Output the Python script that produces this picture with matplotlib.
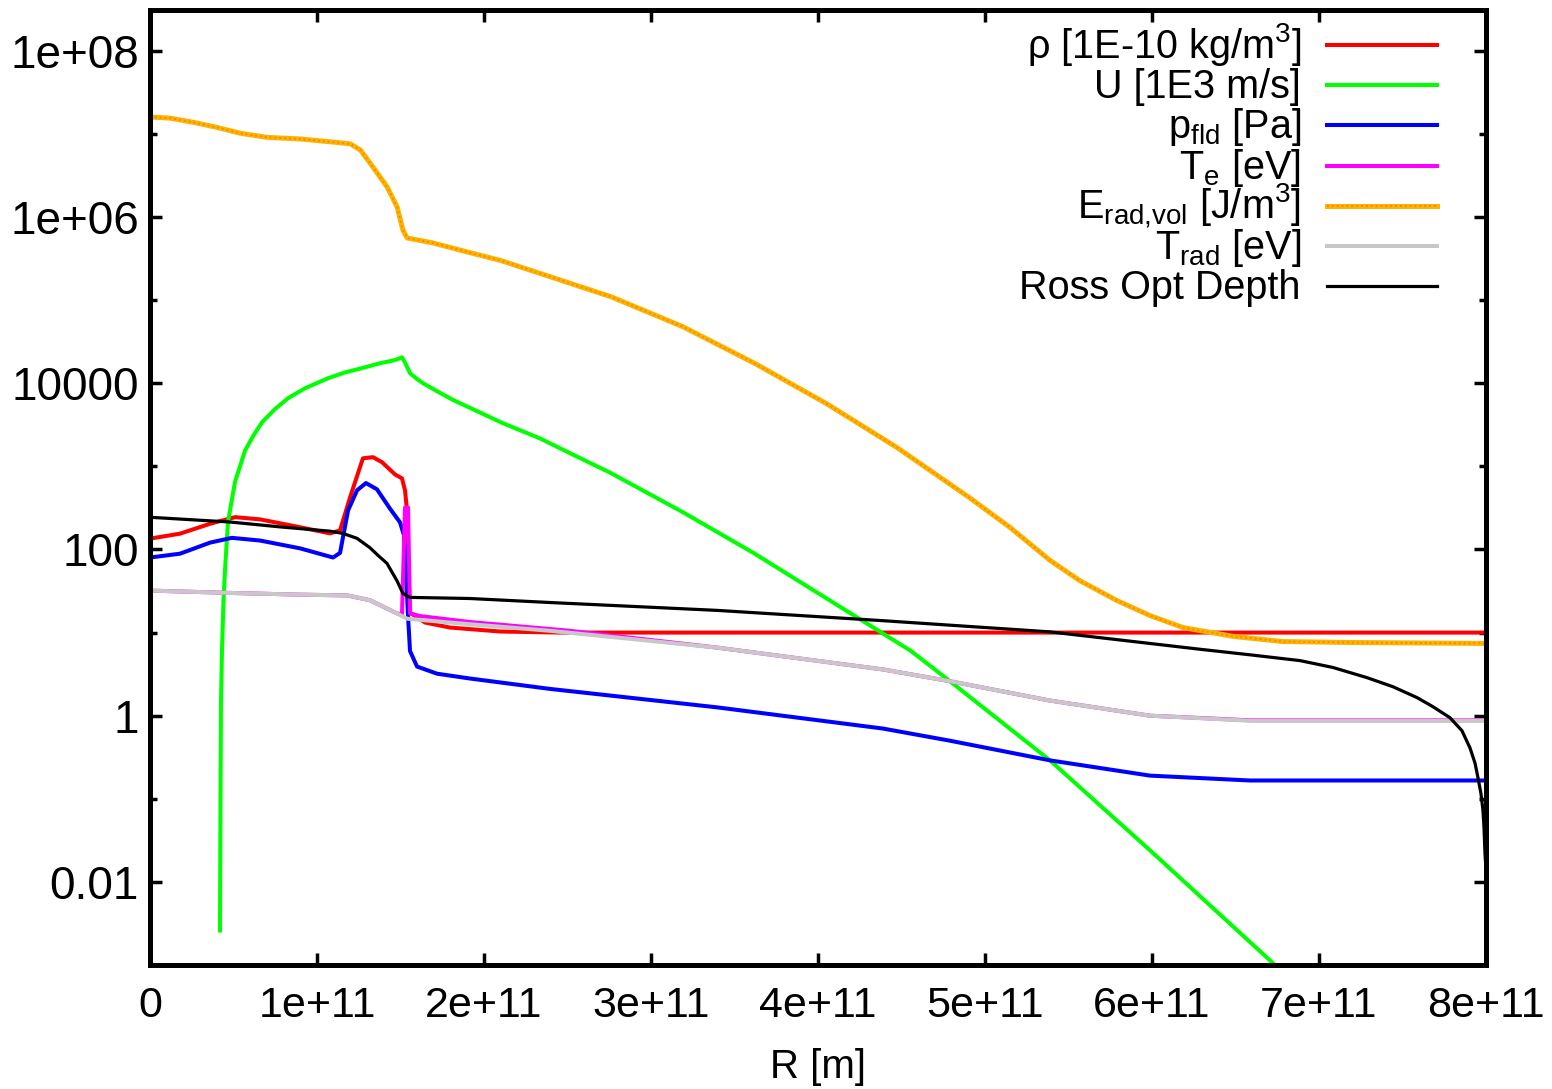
import matplotlib
matplotlib.use('Agg')
import matplotlib.pyplot as plt
import numpy as np
from matplotlib.lines import Line2D
from matplotlib.ticker import FixedLocator, NullFormatter

plt.rcParams['font.family'] = ['Liberation Sans', 'DejaVu Sans']
plt.rcParams['mathtext.fontset'] = 'custom'
plt.rcParams['mathtext.rm'] = 'Liberation Sans'
plt.rcParams['mathtext.it'] = 'Liberation Sans:italic'
plt.rcParams['mathtext.bf'] = 'Liberation Sans:bold'

# --- data (R in units of 1e11 m) ---
rho_r = np.array([0, 0.18, 0.36, 0.51, 0.66, 0.90, 1.078, 1.138, 1.198, 1.275, 1.335, 1.39,
                  1.467, 1.509, 1.527, 1.539, 1.545, 1.557, 1.647, 1.796, 2.096, 2.455,
                  4.0, 6.0, 8.0]) * 1e11
rho = [135, 155, 204, 245, 230, 185, 156, 170, 424, 1250, 1290, 1120,
       800, 716, 515, 295, 74, 17.4, 13.2, 11.5, 10.3, 10.0,
       10.0, 10.0, 10.0]

u_r = np.array([0.419, 0.422, 0.425, 0.431, 0.440, 0.449, 0.467, 0.509, 0.569, 0.617,
                0.671, 0.749, 0.826, 0.928, 1.066, 1.168, 1.269, 1.377, 1.467, 1.509,
                1.527, 1.557, 1.600, 1.635, 1.720, 1.814, 1.950, 2.114, 2.335, 2.515,
                2.760, 3.192, 3.617, 4.048, 4.557, 4.790, 5.389, 5.988, 6.725, 6.83]) * 1e11
u = [2.6e-3, 0.072, 1.5, 6.0, 24, 56, 215, 650, 1550, 2300,
     3400, 4900, 6600, 8700, 11500, 13500, 15200, 17400, 19000, 20500,
     17800, 13200, 11200, 10000, 8000, 6300, 4700, 3300, 2170, 1440,
     830, 280, 90, 26, 6.0, 2.6, 0.29, 0.024, 1.05e-3, 6.5e-4]

p_r = np.array([0, 0.18, 0.36, 0.49, 0.66, 0.90, 1.096, 1.138, 1.186, 1.240, 1.293, 1.359,
                1.437, 1.497, 1.521, 1.530, 1.545, 1.557, 1.599, 1.719, 1.916, 2.395,
                3.395, 4.389, 4.790, 5.389, 5.988, 6.587, 8.0]) * 1e11
p_fld = [80, 89, 121, 138, 128, 103, 80, 91, 295, 515, 630, 530,
         310, 212, 148, 74, 15.8, 6.0, 3.9, 3.2, 2.8, 2.1,
         1.26, 0.70, 0.50, 0.29, 0.19, 0.166, 0.166]

te_r = np.array([0, 0.479, 0.898, 1.180, 1.317, 1.407, 1.479, 1.509, 1.527, 1.545, 1.557,
                 1.617, 1.916, 2.515, 3.395, 4.389, 4.790, 5.389, 5.988, 6.587, 8.0]) * 1e11
te = [32, 30, 28.6, 28, 24.5, 20, 17, 16.5, 320, 320, 17,
      15.8, 13.4, 10.5, 6.6, 3.6, 2.6, 1.52, 1.0, 0.88, 0.88]

erad_r = np.array([0, 0.12, 0.26, 0.40, 0.54, 0.70, 0.90, 1.12, 1.20, 1.26, 1.335, 1.42,
                   1.48, 1.515, 1.54, 1.69, 1.90, 2.10, 2.335, 2.76, 3.19, 3.62, 4.05,
                   4.47, 4.90, 5.150, 5.389, 5.569, 5.790, 5.988, 6.186, 6.485, 6.784,
                   7.186, 8.0]) * 1e11
erad = [1.6e7, 1.55e7, 1.38e7, 1.2e7, 1.02e7, 9.1e6, 8.7e6, 7.9e6, 7.6e6, 6.4e6, 4.0e6, 2.3e6,
        1.32e6, 6.9e5, 5.6e5, 4.9e5, 3.8e5, 3.0e5, 2.1e5, 1.1e5, 4.8e4, 1.74e4, 5.7e3,
        1.7e3, 430, 184, 74, 42, 24.3, 16, 11.5, 9.0, 7.8,
        7.6, 7.4]

trad_r = np.array([0, 0.479, 0.898, 1.180, 1.317, 1.407, 1.479, 1.539, 1.796, 2.395,
                   3.395, 4.389, 4.790, 5.389, 5.988, 6.587, 8.0]) * 1e11
trad = [32, 30, 28.6, 28, 24.5, 20, 17, 14.7, 13.2, 10.5,
        6.6, 3.6, 2.6, 1.52, 1.0, 0.87, 0.87]

ross_r = np.array([0, 0.479, 0.778, 1.078, 1.156, 1.240, 1.317, 1.365, 1.419, 1.479,
                   1.515, 1.557, 1.916, 2.395, 3.395, 4.389, 5.389, 6.287, 6.587, 6.886,
                   7.084, 7.287, 7.443, 7.587, 7.683, 7.784, 7.856, 7.904, 7.934, 7.952,
                   7.970, 7.982, 7.988, 7.994, 7.999]) * 1e11
ross = [244, 214, 187, 166, 156, 136, 105, 85, 68, 42,
        29.5, 26.5, 25.7, 23, 18.5, 13.9, 10.2, 6.3, 5.4, 4.6,
        3.8, 2.87, 2.23, 1.65, 1.28, 0.946, 0.66, 0.41, 0.27, 0.179,
        0.115, 0.072, 0.045, 0.022, 0.015]

labels = [u'\u03c1 [1E-10 kg/m$^3$]', 'U [1E3 m/s]', r'p$_{\mathrm{fld}}$ [Pa]',
          r'T$_{\mathrm{e}}$ [eV]', r'E$_{\mathrm{rad{,}vol}}$ [J/m$^3$]',
          r'T$_{\mathrm{rad}}$ [eV]', 'Ross Opt Depth']
colors = ['#ff0000', '#00ff00', '#0000ff', '#ff00ff', '#ffb300', '#c8c8c8', '#000000']
widths = [2.9, 2.9, 2.9, 2.9, 3.6, 2.9, 2.3]

x_ticks = [0, 1e11, 2e11, 3e11, 4e11, 5e11, 6e11, 7e11, 8e11]
x_tick_labels = ['0', '1e+11', '2e+11', '3e+11', '4e+11', '5e+11', '6e+11', '7e+11', '8e+11']
y_ticks = [1e-2, 1, 1e2, 1e4, 1e6, 1e8]
y_tick_labels = ['0.01', '1', '100', '10000', '1e+06', '1e+08']
y_minor = [1e-1, 1e1, 1e3, 1e5, 1e7]

fig = plt.figure(figsize=(15.52, 10.89), dpi=100)
ax = fig.add_axes([150 / 1552, 1 - 965 / 1089, 1336 / 1552, 955 / 1089])

series = [(rho_r, rho), (u_r, u), (p_r, p_fld), (te_r, te), (erad_r, erad), (trad_r, trad), (ross_r, ross)]
for (xr, yv), c, w in zip(series, colors, widths):
    ax.plot(xr, yv, color=c, lw=w, solid_joinstyle='round')
    if c == '#ffb300':
        ax.plot(xr, yv, color='#f08c00', lw=1.4, ls=(0, (1, 1.5)))

ax.set_yscale('log')
ax.set_xlim(0, 8e11)
ax.set_ylim(1e-3, 3.1e8)
ax.set_xticks(x_ticks, x_tick_labels)
ax.set_yticks(y_ticks, y_tick_labels)
ax.yaxis.set_minor_locator(FixedLocator(y_minor))
ax.yaxis.set_minor_formatter(NullFormatter())
ax.xaxis.set_minor_locator(FixedLocator([]))
ax.tick_params(which='both', direction='in', top=True, right=True, width=2.5)
ax.tick_params(which='major', length=8.5)
ax.tick_params(which='minor', length=5)
ax.tick_params(axis='x', pad=15, labelsize=31)
ax.tick_params(axis='y', pad=8, labelsize=33)
for s in ax.spines.values():
    s.set_linewidth(3.6)
ax.set_xlabel('R [m]', fontsize=29, labelpad=16)

# gnuplot-style key, top right
for i, (lab, c, w) in enumerate(zip(labels, colors, widths)):
    yy = 0.9634 - i * 0.0421
    ax.text(0.8615, yy - 0.0136, lab, transform=ax.transAxes, ha='right', va='baseline', fontsize=28.5)
    ax.add_artist(Line2D([0.881, 0.9633], [yy, yy], transform=ax.transAxes, color=c, lw=w))
    if c == '#ffb300':
        ax.add_artist(Line2D([0.881, 0.9633], [yy, yy], transform=ax.transAxes,
                             color='#f08c00', lw=1.4, ls=(0, (1, 1.5))))

fig.savefig('out.png', dpi=100)
